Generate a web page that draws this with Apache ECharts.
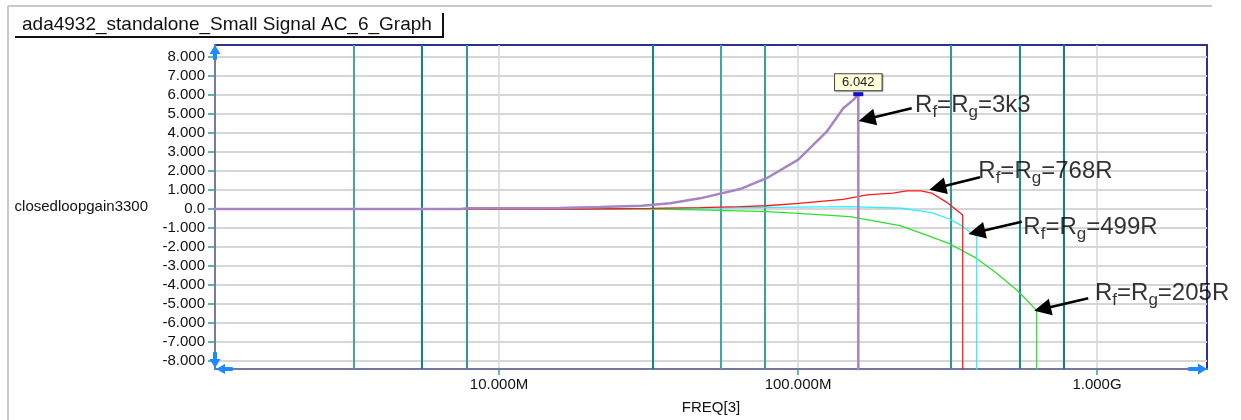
<!DOCTYPE html>
<html>
<head>
<meta charset="utf-8">
<title>ada4932 closed-loop gain</title>
<script src="https://cdn.jsdelivr.net/npm/echarts@6/dist/echarts.min.js"></script>
<style>
  html, body { margin: 0; padding: 0; background: #ffffff; }
  #chart { width: 1241px; height: 420px; }
</style>
</head>
<body>
<div id="chart"></div>
<script>
// ---- text ----
const chartTitle = 'ada4932_standalone_Small Signal AC_6_Graph';
const yAxisName = 'closedloopgain3300';
const xAxisName = 'FREQ[3]';

// ---- tick values and labels ----
const yTicks = [-8, -7, -6, -5, -4, -3, -2, -1, 0, 1, 2, 3, 4, 5, 6, 7, 8];
const xTicks = [1e7, 1e8, 1e9];
const xTickLabels = ['10.000M', '100.000M', '1.000G'];

// ---- cursor / marker frequencies (vertical teal lines) ----
const markerFreqs = [3.27e6, 5.53e6, 7.80e6, 32.6e6, 55.1e6, 77.6e6, 325e6, 549.6e6, 774e6];

// ---- closed-loop gain (dB) vs frequency (Hz), one pair of arrays per resistor value ----
// the last point of each trace is where the simulation falls off the bottom of the scale
const freq3k3 = [1.0e6, 7.4e6, 7.9e6, 16e6, 21.8e6, 30e6, 37.4e6, 47.0e6, 64.0e6, 78.5e6, 100.2e6, 124.7e6, 141.7e6, 153.8e6, 159.1e6, 159.1e6];
const gain3k3 = [0, 0, 0.04, 0.05, 0.1, 0.17, 0.3, 0.56, 1.05, 1.62, 2.6, 4.07, 5.3, 5.77, 6.042, -30];

const freq768 = [1.0e6, 20e6, 32e6, 47e6, 64e6, 78.5e6, 100.5e6, 141.5e6, 169.8e6, 207.8e6, 231e6, 257.8e6, 280e6, 314.5e6, 355.5e6, 355.5e6];
const gain768 = [0, 0, 0.03, 0.07, 0.12, 0.17, 0.3, 0.51, 0.74, 0.83, 0.95, 0.95, 0.84, 0.35, -0.32, -30];

const freq499 = [1.0e6, 20e6, 47e6, 100e6, 149.3e6, 222.3e6, 280e6, 322.4e6, 357.1e6, 381e6, 396e6, 396e6];
const gain499 = [0, 0, 0.05, 0.1, 0.12, 0.04, -0.19, -0.54, -0.93, -1.28, -1.42, -30];

const freq205 = [1.0e6, 20e6, 32e6, 47e6, 78.5e6, 100e6, 149.3e6, 219.3e6, 269.4e6, 322.4e6, 396e6, 461.8e6, 538.8e6, 582e6, 628.5e6, 628.5e6];
const gain205 = [0, 0, -0.01, -0.05, -0.14, -0.23, -0.4, -0.88, -1.37, -1.84, -2.6, -3.38, -4.26, -4.79, -5.35, -30];

// ---- cursor readout ----
const peakFreq = 159.1e6;
const peakValue = 6.042;

// ---- trace labels (Rf = Rg = ...) ----
const traceLabels = ['3k3', '768R', '499R', '205R'];

// ================= layout & style =================
const FONT = '"Liberation Sans", Arial, sans-serif';
const X_MIN = 1.122e6, X_MAX = 2.333e9;
const Y_MIN = -8.42, Y_MAX = 8.63;
const ARROW_BLUE = '#1a8cff';

const markerColors = ['#45a3a3', '#0f8686', '#2f9999', '#0f8686', '#45a3a3', '#3a9e9e', '#2f9999', '#1a8c8c', '#0e8080'];
const traceColors = { '3k3': '#a784c2', '768R': '#ff1a1a', '499R': '#33eeff', '205R': '#2ee02e' };

// annotation text anchors (left edge, middle) and arrow segments, in data space
const labelAnchors = [[246.3e6, 5.43], [400.9e6, 1.96], [567e6, -0.98], [984.7e6, -4.44]];
const arrowFrom = [[240e6, 5.3], [406e6, 1.67], [560e6, -0.67], [935e6, -4.7]];
const arrowTo = [[170e6, 4.74], [293e6, 1.12], [396e6, -1.22], [657e6, -5.26]];

const pairs = (f, v) => f.map((x, i) => [x, v[i]]);

function traceSeries(key, f, v, width, z) {
  return {
    type: 'line',
    name: 'Rf=Rg=' + key,
    data: pairs(f, v),
    symbol: 'none',
    clip: true,
    animation: false,
    z: z,
    lineStyle: { color: traceColors[key], width: width },
    itemStyle: { color: traceColors[key] }
  };
}

const purple = traceSeries('3k3', freq3k3, gain3k3, 2.5, 6);
purple.markPoint = {
  symbol: 'rect',
  symbolSize: [10, 4],
  z: 8,
  itemStyle: { color: '#1212c8' },
  label: {
    show: true,
    position: 'top',
    distance: 2,
    formatter: () => peakValue.toFixed(3),
    fontFamily: FONT,
    fontSize: 13,
    color: '#222',
    backgroundColor: '#ffffd9',
    borderColor: '#444',
    borderWidth: 1,
    padding: [2, 7, 1, 7],
    shadowColor: 'rgba(0,0,0,0.25)',
    shadowOffsetX: 1,
    shadowOffsetY: 1,
    shadowBlur: 1
  },
  data: [{ coord: [peakFreq, peakValue], value: peakValue }]
};

// vertical cursor lines
const markerSeries = {
  type: 'line',
  name: 'markers',
  data: [],
  z: 1,
  animation: false,
  markLine: {
    silent: true,
    symbol: 'none',
    z: 1,
    animation: false,
    label: { show: false },
    data: markerFreqs.map((f, i) => ({ xAxis: f, lineStyle: { color: markerColors[i], width: 2, type: 'solid' } }))
  }
};

// annotation text
const annotationSeries = {
  type: 'scatter',
  name: 'annotations',
  symbolSize: 0,
  z: 10,
  animation: false,
  silent: true,
  data: labelAnchors.map((p, i) => ({ value: p, name: traceLabels[i] })),
  label: {
    show: true,
    position: 'right',
    distance: 0,
    formatter: p => '{m|R}{s|f}{m|=R}{s|g}{m|=' + p.name + '}',
    rich: {
      m: { fontFamily: FONT, fontSize: 24, color: '#000', lineHeight: 30, verticalAlign: 'middle' },
      s: { fontFamily: FONT, fontSize: 17, color: '#000', lineHeight: 16, verticalAlign: 'bottom' }
    }
  }
};

// black pointer arrows from each label to its trace
const arrowSeries = {
  type: 'line',
  name: 'pointers',
  data: [],
  z: 10,
  animation: false,
  silent: true,
  markLine: {
    silent: true,
    animation: false,
    z: 10,
    symbol: ['none', 'triangle'],
    symbolSize: 17,
    label: { show: false },
    lineStyle: { color: '#000', width: 2.5, type: 'solid' },
    itemStyle: { color: '#000' },
    data: arrowFrom.map((a, i) => [{ coord: a }, { coord: arrowTo[i] }])
  }
};

const staticGraphic = [
  // page frame
  { id: 'frameTop', type: 'line', silent: true, shape: { x1: 8, y1: 6, x2: 1212, y2: 6 }, style: { stroke: '#c9c9c9', lineWidth: 2 } },
  { id: 'frameLeft', type: 'line', silent: true, shape: { x1: 8, y1: 6, x2: 8, y2: 420 }, style: { stroke: '#c9c9c9', lineWidth: 2 } },
  // title tab
  { id: 'tabBottom', type: 'line', silent: true, shape: { x1: 15, y1: 37, x2: 443, y2: 37 }, style: { stroke: '#111', lineWidth: 2 } },
  { id: 'tabRight', type: 'line', silent: true, shape: { x1: 443, y1: 13, x2: 443, y2: 38 }, style: { stroke: '#111', lineWidth: 2 } }
];

const option = {
  backgroundColor: '#ffffff',
  animation: false,
  textStyle: { fontFamily: FONT },
  title: {
    text: chartTitle,
    left: 22,
    top: 15.5,
    padding: 0,
    textStyle: { fontFamily: FONT, fontSize: 19, fontWeight: 'normal', color: '#111' }
  },
  grid: {
    left: 215, right: 34, top: 45, bottom: 51,
    show: true,
    borderColor: '#30308f',
    borderWidth: 2,
    backgroundColor: 'transparent'
  },
  xAxis: {
    type: 'log',
    logBase: 10,
    min: X_MIN,
    max: X_MAX,
    name: xAxisName,
    nameLocation: 'middle',
    nameGap: 31,
    nameTextStyle: { fontFamily: FONT, fontSize: 15, color: '#111' },
    axisLine: { show: true, onZero: false, lineStyle: { color: '#777799', width: 2 } },
    axisTick: { show: true, length: 6, customValues: xTicks, lineStyle: { color: '#3a9e9e', width: 1.5 } },
    axisLabel: {
      show: true,
      margin: 8,
      customValues: xTicks,
      fontFamily: FONT, fontSize: 15, color: '#111',
      formatter: v => {
        const i = xTicks.findIndex(t => Math.abs(Math.log10(t) - Math.log10(v)) < 1e-6);
        return i >= 0 ? xTickLabels[i] : '';
      }
    },
    splitLine: { show: true, lineStyle: { color: '#d6d6d6', width: 1.5 } },
    minorTick: { show: false },
    minorSplitLine: { show: false }
  },
  yAxis: {
    type: 'value',
    min: Y_MIN,
    max: Y_MAX,
    name: yAxisName,
    nameLocation: 'middle',
    nameRotate: 0,
    nameGap: 67,
    nameTextStyle: { fontFamily: FONT, fontSize: 15, color: '#111' },
    axisLine: { show: true, onZero: false, lineStyle: { color: '#7a7aa0', width: 2 } },
    axisTick: { show: true, length: 7, customValues: yTicks, lineStyle: { color: '#2f9a9a', width: 1.5 } },
    axisLabel: {
      show: true,
      margin: 10,
      customValues: yTicks,
      fontFamily: FONT, fontSize: 15, color: '#111',
      formatter: v => (Math.abs(v) < 1e-9 ? '0.0' : Number(v).toFixed(3))
    },
    splitLine: { show: true, lineStyle: { color: '#d6d6d6', width: 2 } }
  },
  graphic: staticGraphic,
  series: [
    markerSeries,
    traceSeries('205R', freq205, gain205, 1.3, 3),
    traceSeries('499R', freq499, gain499, 1.3, 4),
    traceSeries('768R', freq768, gain768, 1.3, 5),
    purple,
    annotationSeries,
    arrowSeries
  ]
};

const chart = echarts.init(document.getElementById('chart'), null, { renderer: 'canvas' });
chart.setOption(option);

// blue end-of-axis arrows, placed from the axis extents
function axisArrows() {
  const tl = chart.convertToPixel({ gridIndex: 0 }, [X_MIN, Y_MAX]);
  const bl = chart.convertToPixel({ gridIndex: 0 }, [X_MIN, Y_MIN]);
  const br = chart.convertToPixel({ gridIndex: 0 }, [X_MAX, Y_MIN]);
  const fill = { fill: ARROW_BLUE };
  const poly = (id, pts) => ({ id, type: 'polygon', silent: true, z: 20, shape: { points: pts }, style: fill });
  const rect = (id, x, y, w, h) => ({ id, type: 'rect', silent: true, z: 20, shape: { x, y, width: w, height: h, r: 1 }, style: fill });
  const x0 = tl[0], yT = tl[1], yB = bl[1], xR = br[0];
  return [
    // up arrow (top of y axis)
    poly('upHead', [[x0, yT], [x0 - 5.5, yT + 9], [x0 + 5.5, yT + 9]]),
    rect('upShaft', x0 - 2, yT + 8, 4, 7),
    // down arrow (bottom of y axis)
    poly('downHead', [[x0, yB - 1], [x0 - 5.5, yB - 10], [x0 + 5.5, yB - 10]]),
    rect('downShaft', x0 - 2, yB - 17, 4, 8),
    // left arrow (start of x axis)
    poly('leftHead', [[x0 + 1, yB], [x0 + 10, yB - 5], [x0 + 10, yB + 5]]),
    rect('leftShaft', x0 + 9, yB - 2, 9, 4),
    // right arrow (end of x axis)
    poly('rightHead', [[xR, yB], [xR - 9, yB - 5.5], [xR - 9, yB + 5.5]]),
    rect('rightShaft', xR - 19, yB - 2, 11, 4)
  ];
}
chart.setOption({ graphic: staticGraphic.concat(axisArrows()) });
</script>
</body>
</html>
